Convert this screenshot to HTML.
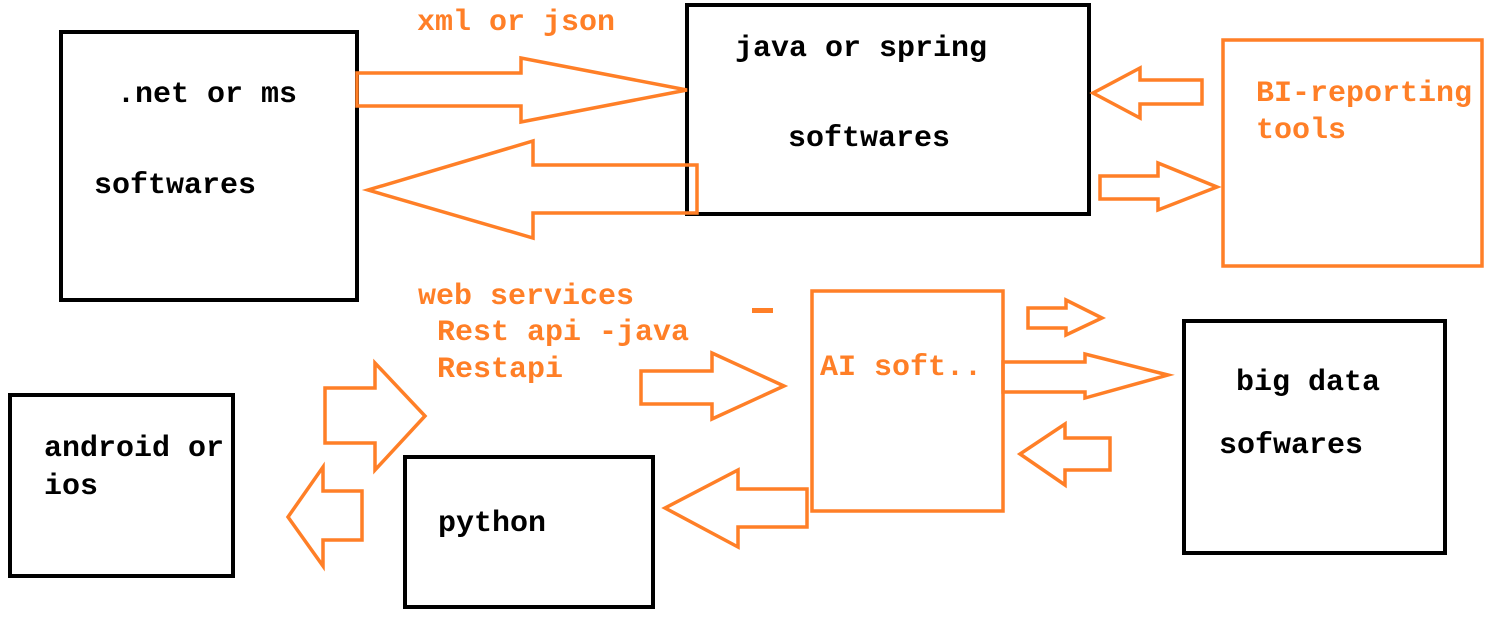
<!DOCTYPE html>
<html><head><meta charset="utf-8"><style>
html,body{margin:0;padding:0;background:#fff}
svg{display:block}
text{font-family:"Liberation Mono",monospace;font-weight:bold;font-size:30px}
.o{fill:#FF7F27}
.k{fill:#000}
</style></head><body>
<svg width="1490" height="619" viewBox="0 0 1490 619" xmlns="http://www.w3.org/2000/svg">
<g fill="none" stroke="#000" stroke-width="4">
<rect x="61" y="32" width="296" height="268"/>
<rect x="687" y="5" width="402" height="209"/>
<rect x="1184" y="321" width="261" height="232"/>
<rect x="405" y="457" width="248" height="150"/>
<rect x="10" y="395" width="223" height="181"/>
</g>
<g fill="none" stroke="#FF7F27" stroke-width="3.5">
<rect x="1223" y="40" width="259" height="226"/>
<rect x="812" y="291" width="191" height="220"/>
<polygon points="357,73 521,73 521,58 687,90 521,122 521,106 357,106"/>
<polygon points="697,165 533,165 533,141 368,190 533,238 533,213 697,213"/>
<polygon points="1202,80 1140,80 1140,68 1093,93 1140,118 1140,104 1202,104"/>
<polygon points="1100,176 1158,176 1158,163 1217,187 1158,210 1158,199 1100,199"/>
<polygon points="641,371 712,371 712,353 784,386 712,419 712,404 641,404"/>
<polygon points="325,388 375,388 375,363 425,416 375,470 375,443 325,443"/>
<polygon points="362,491 323,491 323,467 288,517 323,566 323,540 362,540"/>
<polygon points="807,489 738,489 738,470 665,508 738,547 738,527 807,527"/>
<polygon points="1028,308 1066,308 1066,300 1102,318 1066,335 1066,328 1028,328"/>
<polygon points="1003,362 1085,362 1085,354 1168,375 1085,398 1085,392 1003,392"/>
<polygon points="1110,438 1065,438 1065,424 1020,454 1065,485 1065,470 1110,470"/>
</g>
<rect x="752" y="308" width="21" height="5" fill="#FF7F27"/>
<text class="o" x="417" y="30">xml or json</text>
<text class="k" x="117" y="102">.net or ms</text>
<text class="k" x="94" y="193">softwares</text>
<text class="k" x="735" y="56">java or spring</text>
<text class="k" x="788" y="146">softwares</text>
<text class="o" x="1256" y="101">BI-reporting</text>
<text class="o" x="1256" y="138">tools</text>
<text class="o" x="418" y="304">web services</text>
<text class="o" x="437" y="340">Rest api -java</text>
<text class="o" x="437" y="377">Restapi</text>
<text class="o" x="820" y="375">AI soft..</text>
<text class="k" x="1236" y="390">big data</text>
<text class="k" x="1219" y="453">sofwares</text>
<text class="k" x="44" y="456">android or</text>
<text class="k" x="44" y="494">ios</text>
<text class="k" x="438" y="531">python</text>
</svg>
</body></html>
